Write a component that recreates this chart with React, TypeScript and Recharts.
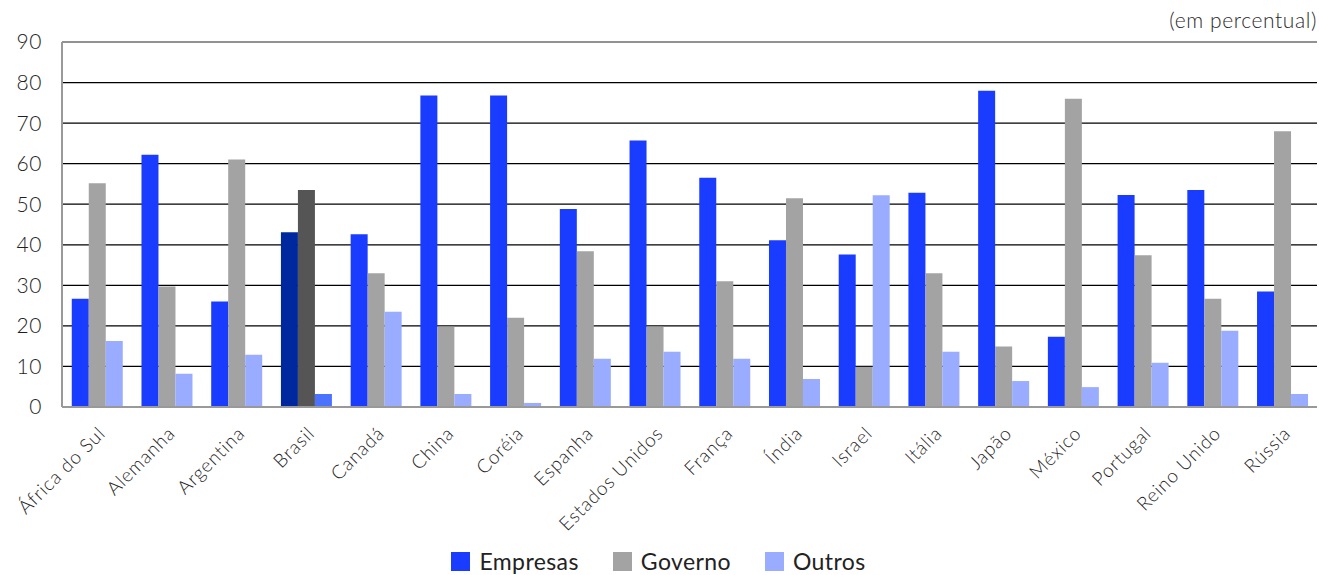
import { BarChart, Bar, XAxis, YAxis, CartesianGrid, Legend, ReferenceLine, Cell } from 'recharts';

const countries = [
  'África do Sul', 'Alemanha', 'Argentina', 'Brasil', 'Canadá', 'China', 'Coréia', 'Espanha',
  'Estados Unidos', 'França', 'Índia', 'Israel', 'Itália', 'Japão', 'México', 'Portugal',
  'Reino Unido', 'Rússia',
];
const empresas = [26.7, 62.2, 26.0, 43.1, 42.6, 76.8, 76.8, 48.8, 65.7, 56.5, 41.1, 37.6, 52.8, 78.0, 17.3, 52.3, 53.5, 28.5];
const governo = [55.2, 29.7, 61.0, 53.5, 33.0, 19.8, 22.0, 38.4, 19.8, 31.0, 51.5, 9.9, 33.0, 14.9, 76.0, 37.4, 26.7, 68.0];
const outros = [16.3, 8.2, 12.9, 3.2, 23.5, 3.2, 1.0, 11.9, 13.6, 11.9, 6.9, 52.2, 13.6, 6.4, 4.9, 10.9, 18.8, 3.2];
const yTicks = [0, 10, 20, 30, 40, 50, 60, 70, 80, 90];

const data = countries.map((c, i) => ({
  country: c,
  Empresas: empresas[i],
  Governo: governo[i],
  Outros: outros[i],
}));

const FONT = 'Lato, "Open Sans", sans-serif';
const C_EMP = '#1a3cff';
const C_GOV = '#a3a3a3';
const C_OUT = '#99acff';
const HL = 'Brasil';

const legendItems = [
  { label: 'Empresas', color: C_EMP },
  { label: 'Governo', color: C_GOV },
  { label: 'Outros', color: C_OUT },
];

function XTick({ x, y, payload }: any) {
  return (
    <g transform={`translate(${x + 5},${y + 15})`}>
      <text
        transform="rotate(-45)"
        textAnchor="end"
        dy="0.35em"
        fill="#1e1e1e"
        fontSize={19}
        fontWeight={300}
        letterSpacing={0.8}
        fontFamily={FONT}
      >
        {payload.value}
      </text>
    </g>
  );
}

function LegendContent() {
  return (
    <div style={{ display: 'flex', justifyContent: 'center', gap: 34, fontFamily: FONT, fontSize: 23, letterSpacing: 0.4, color: '#222' }}>
      {legendItems.map(it => (
        <div key={it.label} style={{ display: 'flex', alignItems: 'center', gap: 9 }}>
          <span style={{ width: 19, height: 19, background: it.color, display: 'inline-block' }} />
          <span>{it.label}</span>
        </div>
      ))}
    </div>
  );
}

export default function App() {
  return (
    <div style={{ position: 'absolute', left: 0, top: 0, width: 1319, height: 575, background: '#fff' }}>
      <div
        style={{
          position: 'absolute', right: 2, top: 7, fontFamily: FONT, fontSize: 21, fontWeight: 300,
          letterSpacing: 0.6, color: '#2a2a2a',
        }}
      >
        (em percentual)
      </div>
      <BarChart
        width={1319}
        height={575}
        data={data}
        margin={{ top: 42, right: 2, left: 0, bottom: 0 }}
        barCategoryGap="14%"
        barGap={0}
      >
        <CartesianGrid vertical={false} stroke="#000" strokeWidth={1.2} />
        <XAxis
          dataKey="country"
          interval={0}
          height={140}
          tickLine={false}
          axisLine={{ stroke: '#999', strokeWidth: 2 }}
          tick={<XTick />}
        />
        <YAxis
          domain={[0, 90]}
          ticks={yTicks}
          width={62}
          tickLine={false}
          tickMargin={14}
          axisLine={{ stroke: '#999', strokeWidth: 2 }}
          tick={{ fill: '#1e1e1e', fontSize: 21, fontWeight: 300, fontFamily: FONT, letterSpacing: 0.6 }}
        />
        <YAxis
          yAxisId="right"
          orientation="right"
          domain={[0, 90]}
          width={0}
          tick={false}
          tickLine={false}
          axisLine={{ stroke: '#999', strokeWidth: 1.5 }}
        />
        <ReferenceLine y={90} stroke="#999" strokeWidth={1.5} />
        <Legend verticalAlign="bottom" height={28} content={<LegendContent />} />
        <Bar dataKey="Empresas" fill={C_EMP} isAnimationActive={false}>
          {data.map(d => (
            <Cell key={d.country} fill={d.country === HL ? '#00289e' : C_EMP} />
          ))}
        </Bar>
        <Bar dataKey="Governo" fill={C_GOV} isAnimationActive={false}>
          {data.map(d => (
            <Cell key={d.country} fill={d.country === HL ? '#555555' : C_GOV} />
          ))}
        </Bar>
        <Bar dataKey="Outros" fill={C_OUT} isAnimationActive={false}>
          {data.map(d => (
            <Cell key={d.country} fill={d.country === HL ? '#4a72ff' : C_OUT} />
          ))}
        </Bar>
      </BarChart>
    </div>
  );
}
